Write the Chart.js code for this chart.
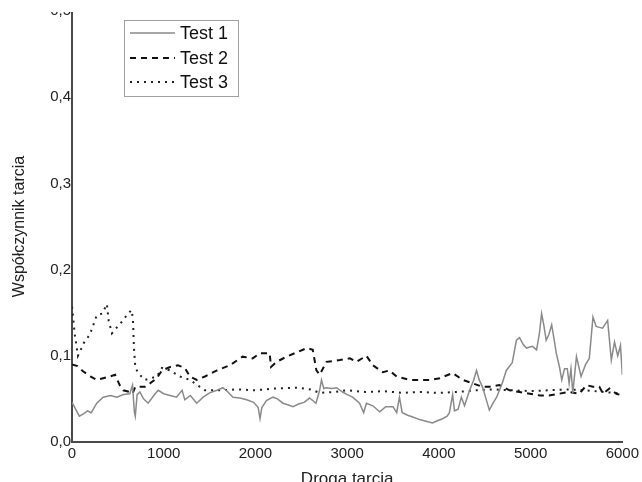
<!DOCTYPE html>
<html>
<head>
<meta charset="utf-8">
<script src="https://cdn.jsdelivr.net/npm/chart.js@4.4.0/dist/chart.umd.min.js"></script>
<style>
  html, body { margin: 0; padding: 0; background: #fff; overflow: hidden; }
  #frame { position: absolute; left: 0; top: 12px; width: 642px; height: 470px; overflow: hidden; }
  #chart { position: absolute; left: 0; top: -12px; }
</style>
</head>
<body>
<div id="frame"><canvas id="chart" width="642" height="494"></canvas></div>
<script>
// --- Data (distance vs friction coefficient) ---
const seriesNames = ["Test 1", "Test 2", "Test 3"];
const xTicks = [0, 1000, 2000, 3000, 4000, 5000, 6000];
const yTicks = [0.0, 0.1, 0.2, 0.3, 0.4, 0.5];

const test1X = [0, 80, 130, 170, 210, 270, 340, 420, 490, 560, 630, 660, 680, 690, 710, 740, 780, 830, 900, 940,
  1000, 1070, 1140, 1200, 1230, 1290, 1360, 1430, 1500, 1580, 1645, 1700, 1755, 1830, 1905, 1980, 2030, 2050, 2070, 2120,
  2190, 2240, 2300, 2360, 2410, 2470, 2530, 2590, 2660, 2700, 2720, 2745, 2775, 2830, 2885, 2950, 3000, 3060, 3135, 3180,
  3210, 3280, 3355, 3420, 3500, 3540, 3570, 3600, 3660, 3715, 3790, 3860, 3930, 3990, 4040, 4090, 4115, 4150, 4170, 4210,
  4245, 4280, 4335, 4380, 4410, 4440, 4475, 4520, 4550, 4590, 4630, 4690, 4735, 4800, 4845, 4880, 4920, 4955, 5020, 5065,
  5095, 5120, 5145, 5170, 5200, 5230, 5255, 5280, 5315, 5340, 5370, 5400, 5420, 5440, 5460, 5500, 5550, 5600, 5640, 5680,
  5715, 5750, 5785, 5840, 5880, 5915, 5950, 5980, 6000];
const test1Y = [0.046, 0.030, 0.033, 0.036, 0.034, 0.045, 0.052, 0.054, 0.052, 0.055, 0.056, 0.066, 0.035, 0.030, 0.055, 0.058, 0.050, 0.045, 0.055, 0.060,
  0.056, 0.054, 0.052, 0.060, 0.049, 0.054, 0.045, 0.052, 0.057, 0.060, 0.063, 0.058, 0.052, 0.051, 0.049, 0.046, 0.040, 0.027, 0.040, 0.048,
  0.052, 0.050, 0.045, 0.043, 0.041, 0.044, 0.046, 0.051, 0.045, 0.060, 0.072, 0.062, 0.063, 0.062, 0.063, 0.058, 0.055, 0.052, 0.045, 0.034,
  0.045, 0.042, 0.035, 0.041, 0.041, 0.034, 0.052, 0.034, 0.031, 0.029, 0.026, 0.024, 0.022, 0.025, 0.027, 0.030, 0.034, 0.055, 0.036, 0.038,
  0.052, 0.042, 0.060, 0.072, 0.083, 0.072, 0.064, 0.048, 0.037, 0.045, 0.052, 0.068, 0.083, 0.092, 0.118, 0.121, 0.113, 0.109, 0.111, 0.107,
  0.125, 0.149, 0.135, 0.118, 0.125, 0.136, 0.120, 0.103, 0.087, 0.072, 0.085, 0.085, 0.068, 0.085, 0.057, 0.099, 0.076, 0.090, 0.097, 0.145,
  0.134, 0.133, 0.132, 0.141, 0.095, 0.116, 0.100, 0.112, 0.078];

const test2X = [0, 60, 120, 200, 270, 340, 415, 470, 520, 560, 630, 660, 690, 740, 795, 850, 925, 980, 1070, 1155,
  1230, 1285, 1360, 1450, 1580, 1720, 1860, 1970, 2050, 2155, 2170, 2230, 2340, 2450, 2560, 2625, 2665, 2700, 2775, 2920,
  3030, 3100, 3210, 3280, 3390, 3460, 3540, 3680, 3790, 3900, 4010, 4150, 4260, 4370, 4475, 4550, 4660, 4770, 4880, 4990,
  5100, 5200, 5310, 5420, 5530, 5610, 5680, 5750, 5790, 5860, 5935, 6000];
const test2Y = [0.090, 0.088, 0.082, 0.076, 0.072, 0.074, 0.076, 0.078, 0.066, 0.060, 0.058, 0.056, 0.064, 0.064, 0.064, 0.068, 0.074, 0.083, 0.087, 0.089,
  0.086, 0.076, 0.072, 0.076, 0.083, 0.089, 0.099, 0.097, 0.103, 0.103, 0.087, 0.093, 0.099, 0.104, 0.109, 0.107, 0.083, 0.078, 0.093, 0.095,
  0.097, 0.093, 0.100, 0.089, 0.081, 0.083, 0.076, 0.072, 0.072, 0.072, 0.074, 0.080, 0.072, 0.068, 0.064, 0.064, 0.066, 0.060, 0.058, 0.056,
  0.054, 0.054, 0.056, 0.058, 0.056, 0.066, 0.064, 0.064, 0.056, 0.062, 0.056, 0.054];

const test3X = [0, 30, 65, 130, 196, 270, 330, 380, 400, 435, 490, 555, 610, 650, 665, 675, 690, 720, 795, 925,
  980, 1070, 1175, 1285, 1395, 1450, 1600, 1800, 2000, 2200, 2450, 2600, 2700, 2850, 3000, 3200, 3400, 3600, 3800, 4000,
  4200, 4400, 4600, 4800, 5000, 5200, 5400, 5600, 5800, 6000];
const test3Y = [0.157, 0.125, 0.100, 0.115, 0.125, 0.147, 0.149, 0.160, 0.141, 0.126, 0.133, 0.141, 0.149, 0.153, 0.141, 0.110, 0.087, 0.080, 0.072, 0.076,
  0.086, 0.083, 0.076, 0.072, 0.064, 0.060, 0.060, 0.061, 0.060, 0.062, 0.063, 0.061, 0.057, 0.058, 0.060, 0.058, 0.059, 0.057, 0.058, 0.057,
  0.058, 0.060, 0.061, 0.060, 0.059, 0.060, 0.061, 0.060, 0.058, 0.056];

const toPoints = (xs, ys) => xs.map((x, i) => ({ x: x, y: ys[i] }));
const commaNum = v => v.toFixed(1).replace(".", ",");
const FONT = "'Liberation Sans', Arial, sans-serif";

// --- Legend drawn inside the plot, boxed like the original ---
const boxLegend = {
  id: "boxLegend",
  afterDraw(chart) {
    const ctx = chart.ctx;
    const x0 = 124.5, y0 = 20.5, w = 114, h = 76;
    ctx.save();
    ctx.fillStyle = "#fff";
    ctx.fillRect(x0, y0, w, h);
    ctx.strokeStyle = "#a0a0a0";
    ctx.lineWidth = 1;
    ctx.setLineDash([]);
    ctx.strokeRect(x0, y0, w, h);
    const rows = [33, 58, 82];
    chart.data.datasets.forEach((ds, i) => {
      ctx.beginPath();
      ctx.strokeStyle = ds.borderColor;
      ctx.lineWidth = ds.borderWidth;
      ctx.setLineDash(ds.borderDash || []);
      ctx.moveTo(130, rows[i]);
      ctx.lineTo(175, rows[i]);
      ctx.stroke();
      ctx.setLineDash([]);
      ctx.fillStyle = "#111";
      ctx.font = "18px " + FONT;
      ctx.textBaseline = "middle";
      ctx.fillText(ds.label, 180, rows[i] + 1);
    });
    ctx.restore();
  }
};

const ctx = document.getElementById("chart").getContext("2d");
new Chart(ctx, {
  type: "line",
  data: {
    datasets: [
      { label: seriesNames[0], data: toPoints(test1X, test1Y), borderColor: "#8a8a8a", borderWidth: 1.5, pointRadius: 0, tension: 0 },
      { label: seriesNames[1], data: toPoints(test2X, test2Y), borderColor: "#111", borderWidth: 2, borderDash: [6, 5], pointRadius: 0, tension: 0 },
      { label: seriesNames[2], data: toPoints(test3X, test3Y), borderColor: "#222", borderWidth: 2, borderDash: [2, 5], pointRadius: 0, tension: 0 }
    ]
  },
  options: {
    responsive: false,
    devicePixelRatio: 1,
    animation: false,
    layout: { padding: { top: 11, right: 19, left: 0, bottom: 0 } },
    plugins: { legend: { display: false }, tooltip: { enabled: false } },
    scales: {
      x: {
        type: "linear",
        min: 0, max: 6000,
        afterFit: s => { s.height = 52; },
        afterBuildTicks: s => { s.ticks = xTicks.map(v => ({ value: v })); },
        grid: { drawOnChartArea: false, drawTicks: false },
        border: { display: true, color: "#4a4a4a", width: 2 },
        ticks: { color: "#222", padding: 3, maxRotation: 0, callback: v => String(v),
                 font: { family: FONT, size: 15 } },
        title: { display: true, text: "Droga tarcia", color: "#222", padding: { top: 0, bottom: 4 },
                 font: { family: FONT, size: 17 } }
      },
      y: {
        min: 0, max: 0.5,
        afterFit: s => { s.width = 72; },
        afterBuildTicks: s => { s.ticks = yTicks.map(v => ({ value: v })); },
        grid: { drawOnChartArea: false, drawTicks: false },
        border: { display: true, color: "#4a4a4a", width: 2 },
        ticks: { color: "#222", padding: 1, callback: v => commaNum(v),
                 font: { family: FONT, size: 15 } },
        title: { display: true, text: "Współczynnik tarcia", color: "#222", padding: { top: 10, bottom: 0 },
                 font: { family: FONT, size: 16 } }
      }
    }
  },
  plugins: [boxLegend]
});
</script>
</body>
</html>
